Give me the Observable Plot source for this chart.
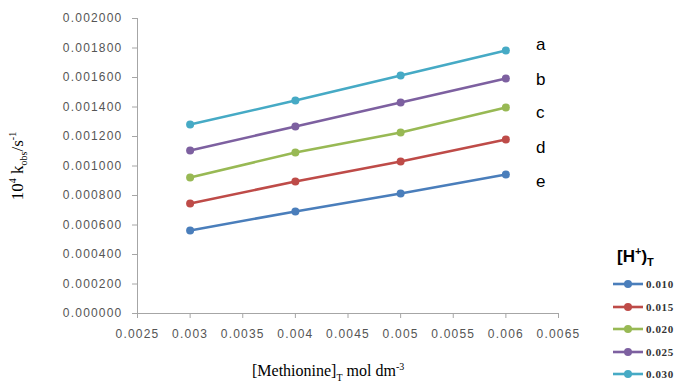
<!DOCTYPE html>
<html>
<head>
<meta charset="utf-8">
<script src="https://cdn.jsdelivr.net/npm/d3@7"></script>
<script src="https://cdn.jsdelivr.net/npm/@observablehq/plot@0.6"></script>
<style>
  html, body { margin: 0; padding: 0; background: #fff; }
  #wrap { position: relative; width: 683px; height: 383px; overflow: hidden; }
  .ttl { position: absolute; font-family: "Liberation Serif", serif; color: #000; white-space: nowrap; }
  .ttl sub, .ttl sup { font-size: 10px; }
  #legend { position: absolute; left: 612px; top: 245px; font-family: "Liberation Serif", serif; }
  #legend .head { font-family: "Liberation Sans", sans-serif; font-weight: bold; font-size: 17px; margin-left: 5px; margin-bottom: 5px; }
  #legend .head sup, #legend .head sub { font-size: 11px; }
  #legend .row { display: flex; align-items: center; height: 22.5px; font-size: 11px; font-weight: bold; color: #333; letter-spacing: 0.6px; }
</style>
</head>
<body>
<div id="wrap"></div>
<script>
// Data
const methionine = [0.003, 0.004, 0.005, 0.006];
const hPlus = ["0.010", "0.015", "0.020", "0.025", "0.030"];
const k_010 = [0.000563, 0.000692, 0.000814, 0.000942];
const k_015 = [0.000746, 0.000895, 0.001031, 0.001180];
const k_020 = [0.000922, 0.001092, 0.001227, 0.001397];
const k_025 = [0.001105, 0.001268, 0.001431, 0.001593];
const k_030 = [0.001281, 0.001444, 0.001614, 0.001783];
const curveLabels = ["e", "d", "c", "b", "a"];
const yTicks = [0, 0.0002, 0.0004, 0.0006, 0.0008, 0.001, 0.0012, 0.0014, 0.0016, 0.0018, 0.002];
const xTicks = [0.0025, 0.003, 0.0035, 0.004, 0.0045, 0.005, 0.0055, 0.006, 0.0065];
const colors = ["#4a7ebb", "#be4b48", "#98b954", "#7d60a0", "#46aac5"];

const seriesValues = [k_010, k_015, k_020, k_025, k_030];
const rows = [];
hPlus.forEach((h, i) => methionine.forEach((m, j) => rows.push({h, m, k: seriesValues[i][j]})));
const lastPts = hPlus.map((h, i) => ({h, m: methionine[3], k: seriesValues[i][3], lab: curveLabels[i]}));
const labelDy = [7, 8, 5, 1, -6];

const axisGray = "#a6a6a6";
const tickStyle = {fontFamily: "'Liberation Sans', sans-serif", fontSize: "12px", fill: "#555", letterSpacing: "1.2px"};

const marks = [
  Plot.ruleX([0.0025], {stroke: axisGray, strokeWidth: 1}),
  Plot.ruleY([0], {stroke: axisGray, strokeWidth: 1}),
  Plot.axisY({ticks: yTicks, tickFormat: d3.format(".6f"), tickSize: 5, tickPadding: 10, stroke: axisGray, fill: "#555", label: null}),
  Plot.axisX({ticks: xTicks, tickFormat: d => String(+d.toFixed(4)), tickSize: 5, tickPadding: 11, stroke: axisGray, fill: "#555", label: null}),
  Plot.line(rows, {x: "m", y: "k", z: "h", stroke: "h", strokeWidth: 2.6}),
  Plot.dot(rows, {x: "m", y: "k", fill: "h", r: 4, stroke: "none"})
];
lastPts.forEach((p, i) => {
  marks.push(Plot.text([p], {x: "m", y: "k", text: "lab", dx: 30, dy: labelDy[i], textAnchor: "start",
    fontFamily: "'Liberation Sans', sans-serif", fontSize: 17, fill: "#000"}));
});

const chart = Plot.plot({
  width: 683,
  height: 383,
  marginLeft: 137,
  marginRight: 125,
  marginTop: 18,
  marginBottom: 70,
  x: {domain: [0.0025, 0.0065]},
  y: {domain: [0, 0.002]},
  color: {domain: hPlus, range: colors},
  style: {background: "#fff", overflow: "visible"},
  marks
});
d3.select(chart).selectAll("[aria-label='y-axis tick label'] text, [aria-label='x-axis tick label'] text")
  .style("font-family", tickStyle.fontFamily).style("font-size", tickStyle.fontSize).style("letter-spacing", tickStyle.letterSpacing);
d3.select(chart).selectAll("[aria-label='y-axis tick label'], [aria-label='x-axis tick label']")
  .attr("font-family", tickStyle.fontFamily).attr("font-size", 12).attr("fill", "#555");

const wrap = document.getElementById("wrap");
wrap.appendChild(chart);

// axis titles
const xt = document.createElement("div");
xt.className = "ttl";
xt.style.cssText = "left:252px; top:361px; font-size:16px;";
xt.innerHTML = "[Methionine]<sub>T</sub> mol dm<sup>-3</sup>";
wrap.appendChild(xt);

const yt = document.createElement("div");
yt.className = "ttl";
yt.style.cssText = "left:18px; top:166px; font-size:17px; transform: translate(-50%,-50%) rotate(-90deg);";
yt.innerHTML = "10<sup>4</sup> k<sub>obs</sub>/s<sup>-1</sup>";
wrap.appendChild(yt);

// legend
const lg = document.createElement("div");
lg.id = "legend";
let html = '<div class="head">[H<sup>+</sup>)<sub>T</sub></div>';
hPlus.forEach((h, i) => {
  html += `<div class="row"><svg width="32" height="10" style="margin-right:2px"><line x1="1" y1="5" x2="31" y2="5" stroke="${colors[i]}" stroke-width="2.6"/><circle cx="16" cy="5" r="4" fill="${colors[i]}"/></svg>${h}</div>`;
});
lg.innerHTML = html;
wrap.appendChild(lg);
</script>
</body>
</html>
